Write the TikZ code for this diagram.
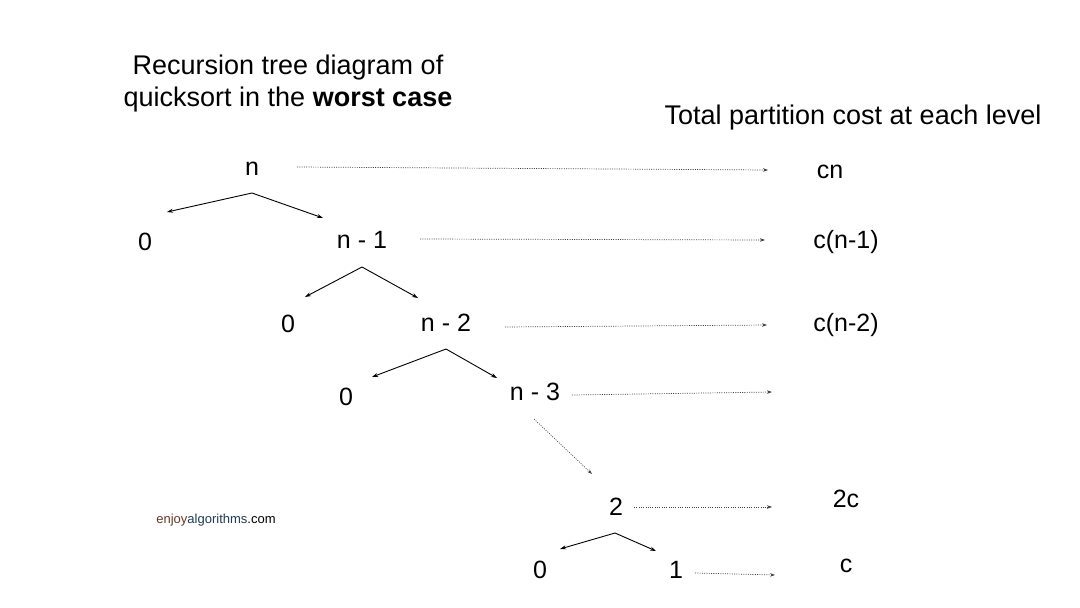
\documentclass[tikz,border=0pt]{standalone}
\usepackage{fontspec}
\setmainfont{Liberation Sans}
\usetikzlibrary{arrows.meta,calc}
\definecolor{enjoybrown}{HTML}{6E3526}
\definecolor{algoblue}{HTML}{1F3A5A}
\begin{document}
\begin{tikzpicture}[x=1pt,y=-1pt,
  lbl/.style={inner sep=0pt,anchor=base,font=\fontsize{25}{30}\selectfont,text=black},
  ttl/.style={inner sep=0pt,anchor=base,font=\fontsize{27}{33}\selectfont,text=black},
  edgearr/.style={line width=0.9pt,-{Stealth[length=6pt,width=4pt]}},
  dotarr/.style={line width=0.7pt,draw=black!75,dash pattern=on 1pt off 1.3pt,-{Stealth[length=5pt,width=3.5pt]}}]
\useasboundingbox[fill=white] (0,0) rectangle (1080,608);
% titles
\node[ttl] (title1) at (288,74) {Recursion tree diagram of};
\node[ttl] (title2) at (288,106) {quicksort in the \textbf{worst case}};
\node[ttl] (costtitle) at (853,124) {Total partition cost at each level};
% tree nodes
\node[lbl] (n) at (252,175) {n};
\node[lbl] (z1) at (145,250) {0};
\node[lbl] (n1) at (362,248) {n - 1};
\node[lbl] (z2) at (288,332) {0};
\node[lbl] (n2) at (446,331) {n - 2};
\node[lbl] (z3) at (346,405) {0};
\node[lbl] (n3) at (535,400) {n - 3};
\node[lbl] (t2) at (616,515) {2};
\node[lbl] (z4) at (540,578) {0};
\node[lbl] (t1) at (676,578) {1};
% cost nodes
\node[lbl] (c0) at (830,178) {cn};
\node[lbl] (c1) at (846,248) {c(n-1)};
\node[lbl] (c2) at (846,331) {c(n-2)};
\node[lbl] (c4) at (846,507) {2c};
\node[lbl] (c5) at (846,572) {c};
\node[inner sep=0pt,anchor=base,font=\fontsize{13}{16}\selectfont] (logo) at (216,523) {\textcolor{enjoybrown}{enjoy}\textcolor{algoblue}{algorithms}.com};
% tree edges
\coordinate (nb)  at ($(n.base)+(0,18)$);
\coordinate (n1b) at ($(n1.base)+(0,19)$);
\coordinate (n2b) at ($(n2.base)+(0,18)$);
\coordinate (t2b) at ($(t2.base)+(-1,18)$);
\coordinate (z1t) at ($(z1.base)+(22,-38)$);
\coordinate (n1t) at ($(n1.base)+(-39,-30)$);
\coordinate (z2t) at ($(z2.base)+(17,-35)$);
\coordinate (n2t) at ($(n2.base)+(-28,-33)$);
\coordinate (z3t) at ($(z3.base)+(26,-28)$);
\coordinate (n3t) at ($(n3.base)+(-38,-22)$);
\coordinate (z4t) at ($(z4.base)+(20,-29)$);
\coordinate (t1t) at ($(t1.base)+(-20,-27)$);
\draw[edgearr] (nb) -- (z1t);
\draw[edgearr] (nb) -- (n1t);
\draw[edgearr] (n1b) -- (z2t);
\draw[edgearr] (n1b) -- (n2t);
\draw[edgearr] (n2b) -- (z3t);
\draw[edgearr] (n2b) -- (n3t);
\draw[edgearr] (t2b) -- (z4t);
\draw[edgearr] (t2b) -- (t1t);
% dotted diagonal
\coordinate (n3d) at ($(n3.base)+(-1,19)$);
\coordinate (t2d) at ($(t2.base)+(-24,-41)$);
\draw[dotarr] (n3d) -- (t2d);
% dotted level arrows
\coordinate (a0s) at ($(n.base)+(45,-8)$);   \coordinate (a0e) at ($(c0.base)+(-62,-8)$);
\coordinate (a1s) at ($(n1.base)+(58,-9)$);  \coordinate (a1e) at ($(c1.base)+(-81,-8)$);
\coordinate (a2s) at ($(n2.base)+(59,-4)$);  \coordinate (a2e) at ($(c2.base)+(-79,-6)$);
\coordinate (a3s) at ($(n3.base)+(37,-5)$);  \coordinate (a3e) at (772,392);
\coordinate (a4s) at ($(t2.base)+(18,-8)$);  \coordinate (a4e) at ($(c4.base)+(-74,0)$);
\coordinate (a5s) at ($(t1.base)+(19,-5)$);  \coordinate (a5e) at ($(c5.base)+(-71,3)$);
\draw[dotarr] (a0s) -- (a0e);
\draw[dotarr] (a1s) -- (a1e);
\draw[dotarr] (a2s) -- (a2e);
\draw[dotarr] (a3s) -- (a3e);
\draw[dotarr] (a4s) -- (a4e);
\draw[dotarr] (a5s) -- (a5e);
\end{tikzpicture}
\end{document}
